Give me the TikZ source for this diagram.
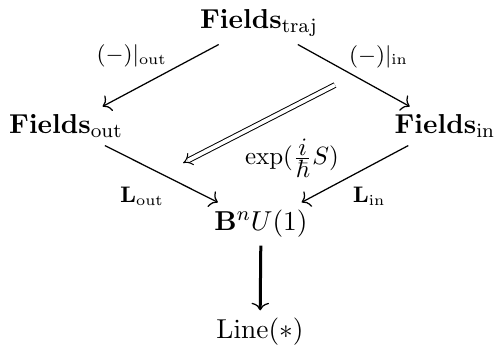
\documentclass[tikz,border=0pt,11pt]{standalone}
\usepackage{amsmath,amssymb}
\usetikzlibrary{arrows.meta}
\begin{document}
\begin{tikzpicture}[
			x=0.4pt, y=-0.4pt,
			map/.style={draw, -{To[length=3pt, width=7pt]}, line width=0.5pt},
			every node/.style={inner sep=3pt, font=\normalsize},
			lbl/.style={font=\footnotesize, inner sep=1pt}
			]
			\useasboundingbox (0,0) rectangle (494,349);
			
			\node (traj) at (259,23) {$\mathbf{Fields}_{\mathrm{traj}}$};
			\node (out) at (66,126) {$\mathbf{Fields}_{\mathrm{out}}$};
			\node (in) at (445,126) {$\mathbf{Fields}_{\mathrm{in}}$};
			\node (B) at (261,224) {$\mathbf{B}^n U(1)$};
			\node (line) at (260,332) {$\mathrm{Line}(\ast)$};
			
			\draw[map] (traj) -- node[lbl, above left, pos=0.42] {$(-)|_{\mathrm{out}}$} (out);
			\draw[map] (traj) -- node[lbl, above right, pos=0.43] {$(-)|_{\mathrm{in}}$} (in);
			\draw[map] (out) -- node[lbl, below left, pos=0.55, yshift=-3pt] {$\mathbf{L}_{\mathrm{out}}$} (B);
			\draw[map] (in) -- node[lbl, below right, pos=0.55, yshift=-3pt] {$\mathbf{L}_{\mathrm{in}}$} (B);
			\draw[line width=1.2pt, -{To[length=3pt, width=7pt, line width=0.5pt]}] (B) -- (line);
			
			% the action
			\coordinate (s) at (335,85);
			\coordinate (t) at (183,163);
			\draw[double, double distance=1.5pt, -{Implies}] (s) -- (t);
			\node[font=\small] (act) at (292,158) {$\exp(\frac{\textstyle i}{\textstyle\hbar}S)$};
		\end{tikzpicture}
\end{document}
